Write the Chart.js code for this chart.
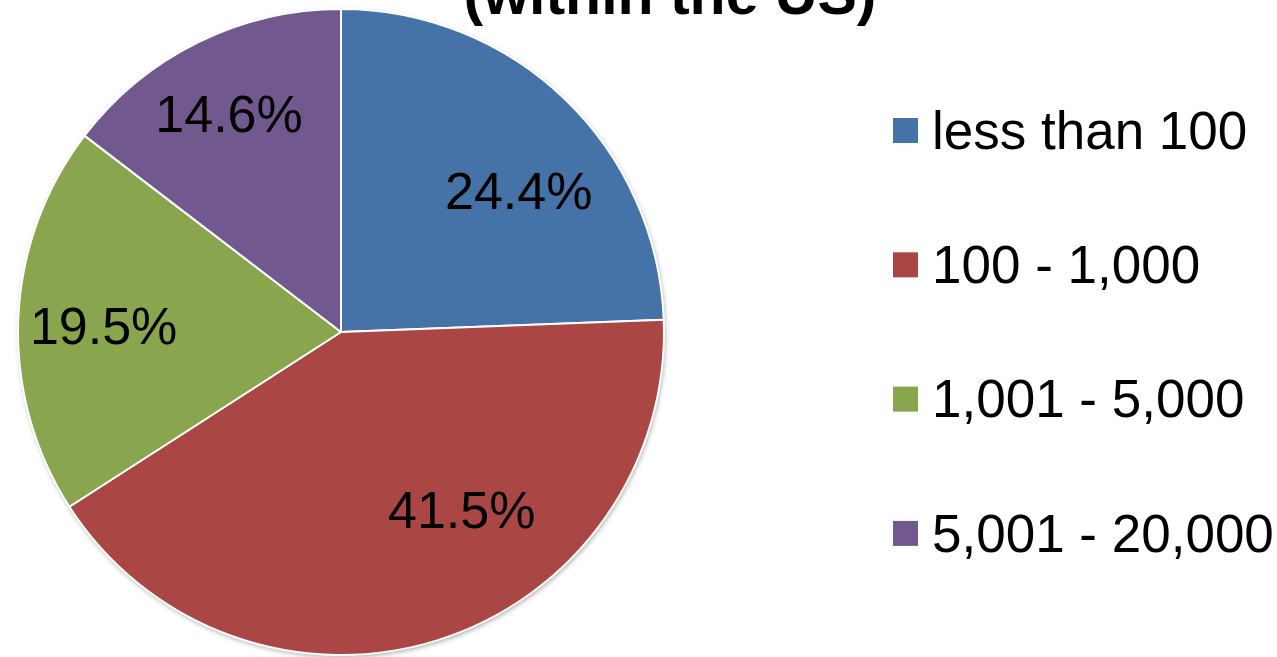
<!DOCTYPE html>
<html>
<head>
<meta charset="utf-8">
<script src="https://cdn.jsdelivr.net/npm/chart.js@4/dist/chart.umd.min.js"></script>
<style>
  html, body { margin: 0; padding: 0; background: #fff; }
  #pie_chart { display: block; }
</style>
</head>
<body>
<canvas id="pie_chart" width="1277" height="657"></canvas>
<script>
// data
var categories = ['less than 100', '100 - 1,000', '1,001 - 5,000', '5,001 - 20,000'];
var shares = [24.4, 41.5, 19.5, 14.6];
var sliceColors = ['#4572A7', '#AA4643', '#89A54E', '#71588F'];
var titleText = '(within the US)';

// where each percent label sits inside its slice (fraction of arc angle, fraction of radius)
var labelAngleFrac = [0.59, 0.39, 0.48, 0.48];
var labelRadiusFrac = [0.70, 0.67, 0.735, 0.755];

var FONT = '"Liberation Sans", Arial, sans-serif';

// soft shadow under the pie
var pieShadow = {
    id: 'pieShadow',
    beforeDatasetsDraw: function (chart) {
        var arc = chart.getDatasetMeta(0).data[0];
        if (!arc) return;
        var ctx = chart.ctx;
        ctx.save();
        ctx.shadowColor = 'rgba(0,0,0,0.35)';
        ctx.shadowBlur = 5;
        ctx.shadowOffsetX = 1;
        ctx.shadowOffsetY = 2;
        ctx.fillStyle = '#fff';
        ctx.beginPath();
        ctx.arc(arc.x, arc.y, arc.outerRadius, 0, Math.PI * 2);
        ctx.fill();
        ctx.restore();
    }
};

// percent labels inside the slices
var sliceLabels = {
    id: 'sliceLabels',
    afterDatasetsDraw: function (chart) {
        var ctx = chart.ctx;
        var meta = chart.getDatasetMeta(0);
        ctx.save();
        ctx.font = '52px ' + FONT;
        ctx.fillStyle = '#000';
        ctx.textAlign = 'center';
        ctx.textBaseline = 'middle';
        meta.data.forEach(function (arc, i) {
            var a = arc.startAngle + (arc.endAngle - arc.startAngle) * labelAngleFrac[i];
            var r = arc.outerRadius * labelRadiusFrac[i];
            ctx.fillText(shares[i].toFixed(1) + '%', arc.x + Math.cos(a) * r, arc.y + Math.sin(a) * r + 2);
        });
        ctx.restore();
    }
};

// title (only its last line is visible) and legend on the right
var sideText = {
    id: 'sideText',
    afterDraw: function (chart) {
        var ctx = chart.ctx;
        ctx.save();
        ctx.font = 'bold 59px ' + FONT;
        ctx.fillStyle = '#000';
        ctx.textAlign = 'center';
        ctx.textBaseline = 'alphabetic';
        ctx.fillText(titleText, 670, 14);

        ctx.font = '53px ' + FONT;
        ctx.textAlign = 'left';
        ctx.textBaseline = 'middle';
        for (var i = 0; i < categories.length; i++) {
            var top = 118 + i * 134.3;
            ctx.fillStyle = sliceColors[i];
            ctx.fillRect(893, top, 25, 25);
            ctx.fillStyle = '#000';
            ctx.fillText(categories[i], 932, top + 16);
        }
        ctx.restore();
    }
};

var config = {
    type: 'pie',
    data: {
        labels: categories,
        datasets: [{
            data: shares,
            backgroundColor: sliceColors,
            borderColor: '#ffffff',
            borderWidth: 2
        }]
    },
    options: {
        responsive: false,
        animation: false,
        devicePixelRatio: 1,
        layout: { padding: { left: 17, top: 8, right: 612, bottom: 1 } },
        plugins: {
            legend: { display: false },
            title: { display: false },
            tooltip: { enabled: false }
        }
    },
    plugins: [pieShadow, sliceLabels, sideText]
};

new Chart(document.getElementById('pie_chart').getContext('2d'), config);
</script>
</body>
</html>
